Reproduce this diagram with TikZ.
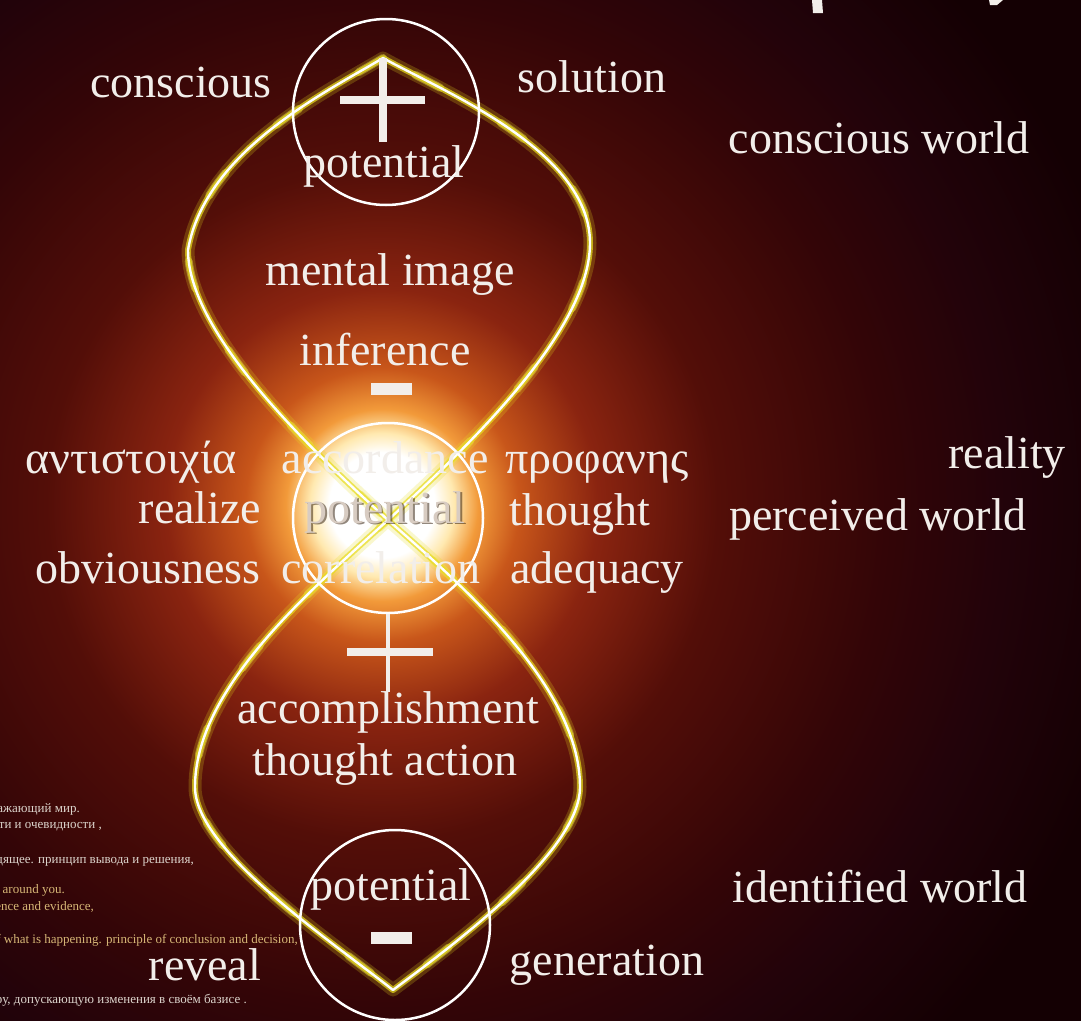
\documentclass[tikz,border=0pt]{standalone}
\usepackage{fontspec}
\setmainfont{Liberation Serif}
\definecolor{bgdark}{HTML}{140003}
\definecolor{glowA}{HTML}{FFE9B0}
\definecolor{glowB}{HTML}{F29A3A}
\definecolor{glowC}{HTML}{C8561A}
\definecolor{glowD}{HTML}{8A2410}
\definecolor{glowE}{HTML}{530E08}
\definecolor{glowF}{HTML}{330507}
\definecolor{glowG}{HTML}{22030A}
\definecolor{txtwhite}{HTML}{F2EEEA}
\definecolor{txtgrey}{HTML}{D8CCC2}
\definecolor{smallru}{HTML}{DCD4CC}
\definecolor{smallen}{HTML}{D6B676}
\definecolor{neon}{HTML}{E8DC1E}
\pgfdeclareradialshading{cglow}{\pgfpoint{0bp}{0bp}}{color(0bp)=(white); color(1.1bp)=(white); color(1.5bp)=(glowA); color(2bp)=(glowB); color(2.85bp)=(glowC); color(4.5bp)=(glowD); color(7bp)=(glowE); color(10.5bp)=(glowF); color(13bp)=(glowG); color(16bp)=(bgdark); color(50bp)=(bgdark)}
\tikzset{
  lbl/.style={text=txtwhite, font=\fontsize{46}{50}\selectfont, anchor=base, inner sep=0pt},
  smallru/.style={text=smallru, font=\fontsize{13}{15}\selectfont, anchor=base east, inner sep=0pt},
  smallen/.style={text=smallen, font=\fontsize{13}{15}\selectfont, anchor=base east, inner sep=0pt},
  ring/.style={circle, draw=white, line width=2.5pt, inner sep=0pt},
  glowwide/.style={draw=neon, line width=13pt, opacity=0.22, line join=round},
  glowmid/.style={draw=neon, line width=6pt, opacity=0.7, line join=round},
  glowbead/.style={draw=neon!80!white, line width=8pt, opacity=0.45, dash pattern=on 28pt off 70pt, line cap=round},
  neoncore/.style={draw=white, line width=2.4pt, line join=round},
  bar/.style={fill=txtwhite, draw=none}
}
\begin{document}
\begin{tikzpicture}[x=1pt, y=-1pt]
\useasboundingbox (0,0) rectangle (1081,1020);
\clip (0,0) rectangle (1081,1020);
% background
\fill[bgdark] (0,0) rectangle (1081,1020);
\shade[shading=cglow] (382,505) circle[radius=1200];
% key points of the figure eight
\coordinate (T) at (383,58);
\coordinate (L1) at (188,250);
\coordinate (R1) at (590,243);
\coordinate (C) at (388,520);
\coordinate (L2) at (195,787);
\coordinate (R2) at (580,787);
\coordinate (B) at (393,990);
\def\eightpath{(T) .. controls (330,90) and (205,150) .. (L1)
  .. controls (188,330) and (300,440) .. (C)
  .. controls (470,592) and (580,690) .. (R2)
  .. controls (580,850) and (460,940) .. (B)
  .. controls (330,940) and (195,850) .. (L2)
  .. controls (195,690) and (305,595) .. (C)
  .. controls (470,445) and (590,330) .. (R1)
  .. controls (590,150) and (440,90) .. (T) -- cycle}
\path[glowwide] \eightpath;
\path[glowbead] \eightpath;
\path[glowmid] \eightpath;
\path[neoncore] \eightpath;
% circles
\node[ring, minimum size=186pt] (ctop) at (386,112) {};
\node[ring, minimum size=190pt] (cmid) at (388,518) {};
\node[ring, minimum size=190pt] (cbot) at (395,925) {};
% plus in top circle
\fill[bar] (379,58) rectangle (387,142);
\fill[bar] (340,96) rectangle (425,104);
% minus under inference
\fill[bar] (371,383) rectangle (412,395);
% venus stem and cross
\coordinate (stemend) at (388,692);
\draw[txtwhite, line width=4.5pt] (cmid.south) -- (stemend);
\fill[bar] (347,648) rectangle (433,656);
% minus in bottom circle
\fill[bar] (371,932) rectangle (412,944);
% title fragments at top right
\fill[txtwhite] (812,0) -- (822,0) -- (823,13) -- (813,13) -- cycle;
\fill[txtwhite] (989,0) -- (1003,0) -- (997,5) -- (990,5) -- cycle;
% labels
\node[lbl] (conscious) at (181,97) {conscious};
\node[lbl] (solution) at (592,92) {solution};
\node[lbl] (cworld) at (879,153) {conscious world};
\node[lbl] (pottop) at (384,177) {potential};
\node[lbl] (mental) at (390,285) {mental image};
\node[lbl] (inference) at (385,365) {inference};
\node[lbl] (antist) at (131,473) {αντιστοιχία};
\node[lbl] (accord) at (385,473) {accordance};
\node[lbl] (profan) at (597,473) {προφανης};
\node[lbl] (reality) at (1007,468) {reality};
\node[lbl] (realize) at (200,523) {realize};
\node[lbl, text=black!70!brown, opacity=0.55] (potshadow) at (386.5,524.5) {potential};
\node[lbl, text=txtgrey] (potmid) at (385,523) {potential};
\node[lbl] (thought) at (580,525) {thought};
\node[lbl] (pworld) at (878,530) {perceived world};
\node[lbl] (obvious) at (148,583) {obviousness};
\node[lbl] (correl) at (381,583) {correlation};
\node[lbl] (adequacy) at (597,583) {adequacy};
\node[lbl] (accompl) at (388,723) {accomplishment};
\node[lbl] (thaction) at (385,775) {thought action};
\node[lbl] (potbot) at (391,900) {potential};
\node[lbl] (iworld) at (880,902) {identified world};
\node[lbl] (reveal) at (205,980) {reveal};
\node[lbl] (generation) at (607,975) {generation};
% small text at bottom left, cut by the left edge
\node[smallru] (s1) at (80,812) {отражающий мир.};
\node[smallru] (s2) at (102,828) {сти и очевидности ,};
\node[smallru] (s3) at (194,863) {происходящее. принцип  вывода и решения,};
\node[smallen] (s4) at (65,893) {world around you.};
\node[smallen] (s5) at (94,910) {correspondence and evidence,};
\node[smallen] (s6) at (298,943) {understanding of what is happening. principle of conclusion and decision,};
\node[smallru] (s7) at (247,1003) {структуру, допускающую  изменения  в своём базисе .};
\end{tikzpicture}
\end{document}
